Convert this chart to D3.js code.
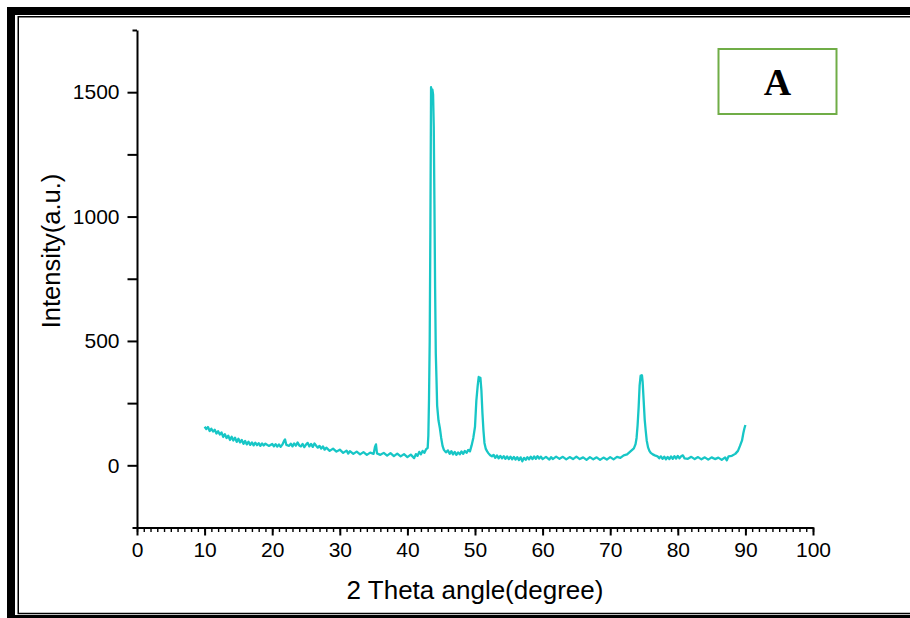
<!DOCTYPE html>
<html>
<head>
<meta charset="utf-8">
<script src="https://cdn.jsdelivr.net/npm/d3@7"></script>
<style>
  html, body { margin: 0; padding: 0; background: #fff; }
  svg { display: block; }
</style>
</head>
<body>
<svg id="chart" width="910" height="618"></svg>
<script>
// ---- data ----
const angles = [
  10.0,10.25,10.5,10.75,11.0,11.25,11.5,11.75,12.0,12.25,12.5,12.75,13.0,13.25,13.5,13.75,
  14.0,14.25,14.5,14.75,15.0,15.25,15.5,15.75,16.0,16.25,16.5,16.75,17.0,17.25,17.5,17.75,
  18.0,18.25,18.5,18.75,19.0,19.5,20.0,20.25,20.5,20.75,21.0,21.25,21.5,21.75,21.9,22.1,
  22.5,22.75,23.0,23.25,23.5,23.75,24.0,24.25,24.5,24.75,25.0,25.25,25.5,25.75,26.0,26.25,
  26.5,26.75,27.0,27.25,27.5,27.75,28.0,28.5,29.0,29.5,30.0,30.5,31.0,31.25,31.5,32.0,
  32.5,33.0,33.5,34.0,34.5,35.0,35.2,35.35,35.5,36.0,36.5,37.0,37.5,38.0,38.5,39.0,
  39.5,40.0,40.5,41.0,41.25,41.5,41.75,42.0,42.25,42.5,42.75,43.0,43.1,43.2,43.3,43.4,
  43.5,43.6,43.7,43.8,43.9,44.0,44.1,44.2,44.3,44.4,44.6,44.8,45.0,45.2,45.4,45.7,
  46.0,46.25,46.5,46.75,47.0,47.25,47.5,47.75,48.0,48.25,48.5,48.75,49.0,49.25,49.5,49.75,
  50.0,50.2,50.4,50.55,50.7,50.8,50.95,51.1,51.25,51.4,51.6,51.8,52.0,52.25,52.5,52.75,
  53.0,53.25,53.5,53.75,54.0,54.25,54.5,54.75,55.0,55.25,55.5,55.75,56.0,56.25,56.5,56.75,
  57.0,57.25,57.5,57.75,58.0,58.25,58.5,58.75,59.0,59.25,59.5,59.75,60.0,60.5,61.0,61.25,
  61.5,62.0,62.5,63.0,63.5,64.0,64.5,65.0,65.5,66.0,66.5,67.0,67.5,68.0,68.5,69.0,
  69.5,70.0,70.5,71.0,71.5,72.0,72.5,72.75,73.0,73.25,73.5,73.75,73.9,74.05,74.2,74.35,
  74.5,74.6,74.7,74.8,74.95,75.1,75.25,75.4,75.6,75.8,76.0,76.3,76.6,77.0,77.25,77.5,
  77.75,78.0,78.25,78.5,78.75,79.0,79.25,79.5,79.75,80.0,80.25,80.5,80.75,81.0,81.5,82.0,
  82.5,83.0,83.5,84.0,84.5,85.0,85.5,86.0,86.5,87.0,87.25,87.5,88.0,88.5,88.9,89.2,
  89.5,89.7,89.85,90.0
];
const intensity = [
  155,146,154,138,147,136,143,128,137,124,132,114,125,110,119,102,
  115,100,111,94,107,92,102,86,98,84,95,82,92,80,91,81,
  89,78,88,80,87,78,86,76,85,75,84,74,83,98,104,82,
  78,87,76,88,79,92,80,76,86,73,83,90,76,86,74,88,
  79,71,78,67,76,63,71,58,67,55,63,50,59,47,57,46,
  55,44,53,42,51,46,74,84,48,42,50,39,49,37,47,36,
  45,33,43,29,45,38,54,44,58,50,64,70,120,270,500,950,
  1520,1480,1510,1490,1360,1050,710,450,350,240,180,150,110,78,62,52,
  60,46,57,44,54,42,52,44,56,46,58,50,62,56,80,110,
  155,260,320,355,340,352,300,210,140,90,66,56,48,40,36,42,
  30,40,28,38,28,37,26,36,25,35,24,34,23,33,21,32,
  16,30,22,33,24,35,25,36,26,37,27,35,25,34,23,33,
  25,35,26,34,24,33,25,35,25,32,22,33,24,32,22,31,
  23,33,24,34,30,40,44,50,56,62,68,85,110,160,230,320,
  360,345,362,335,260,185,140,100,72,58,50,44,40,36,28,36,
  26,35,24,34,25,36,26,37,27,38,28,36,40,28,26,34,
  25,33,24,32,23,32,25,31,22,32,20,36,38,46,58,78,
  100,130,148,162
];
const xMajorTicks = [0,10,20,30,40,50,60,70,80,90,100];
const xMinorTicks = [0,1,2,3,4,5,6,7,8,9,10,11,12,13,14,15,16,17,18,19,20,21,22,23,24,25,26,27,28,29,
  30,31,32,33,34,35,36,37,38,39,40,41,42,43,44,45,46,47,48,49,50,51,52,53,54,55,56,57,58,59,
  60,61,62,63,64,65,66,67,68,69,70,71,72,73,74,75,76,77,78,79,80,81,82,83,84,85,86,87,88,89,
  90,91,92,93,94,95,96,97,98,99,100];
const yMajorTicks = [0,500,1000,1500];
const yMinorTicks = [250,750,1250];
const yEndTicks = [-250,1750];
const xTitle = "2 Theta angle(degree)";
const yTitle = "Intensity(a.u.)";
const panelLabel = "A";

// ---- drawing ----
const SANS = "'Liberation Sans', Arial, sans-serif";
const SERIF = "'Liberation Serif', 'Times New Roman', serif";
const svg = d3.select("#chart");
const W = 910, H = 618;

// page frame (thick-thin double border)
svg.append("rect").attr("x",0).attr("y",0).attr("width",W).attr("height",H).attr("fill","#fff");
svg.append("rect").attr("x",11).attr("y",11).attr("width",W+20).attr("height",608)
  .attr("fill","none").attr("stroke","#000").attr("stroke-width",8);
svg.append("rect").attr("x",18.25).attr("y",16.75).attr("width",W+20).attr("height",613.5-16.75)
  .attr("fill","none").attr("stroke","#000").attr("stroke-width",1.5);

const x = d3.scaleLinear().domain([0,100]).range([137,813]);
const y = d3.scaleLinear().domain([-250,1750]).range([527.5,30]);

// x axis minor
svg.append("g").attr("transform",`translate(0,${y(-250)})`)
  .call(d3.axisBottom(x).tickValues(xMinorTicks).tickSize(4.5).tickSizeOuter(0).tickFormat(""))
  .call(g => g.select(".domain").remove())
  .call(g => g.selectAll("line").attr("stroke","#000").attr("stroke-width",1.4));
// x axis major
svg.append("g").attr("transform",`translate(0,${y(-250)})`)
  .call(d3.axisBottom(x).tickValues(xMajorTicks).tickSize(8).tickSizeOuter(0).tickPadding(7).tickFormat(d3.format("d")))
  .call(g => g.select(".domain").attr("stroke","#000").attr("stroke-width",2))
  .call(g => g.selectAll("line").attr("stroke","#000").attr("stroke-width",2))
  .call(g => g.selectAll("text").style("font-size","21px").style("font-family",SANS).attr("fill","#000"));

// y axis ends
svg.append("g").attr("transform",`translate(${x(0)},0)`)
  .call(d3.axisLeft(y).tickValues(yEndTicks).tickSize(4.5).tickSizeOuter(0).tickFormat(""))
  .call(g => g.select(".domain").remove())
  .call(g => g.selectAll("line").attr("stroke","#000").attr("stroke-width",2));
// y axis minor
svg.append("g").attr("transform",`translate(${x(0)},0)`)
  .call(d3.axisLeft(y).tickValues(yMinorTicks).tickSize(9.5).tickSizeOuter(0).tickFormat(""))
  .call(g => g.select(".domain").remove())
  .call(g => g.selectAll("line").attr("stroke","#000").attr("stroke-width",2));
// y axis major
svg.append("g").attr("transform",`translate(${x(0)},0)`)
  .call(d3.axisLeft(y).tickValues(yMajorTicks).tickSize(9.5).tickSizeOuter(0).tickPadding(8).tickFormat(d3.format("d")))
  .call(g => g.select(".domain").attr("stroke","#000").attr("stroke-width",2))
  .call(g => g.selectAll("line").attr("stroke","#000").attr("stroke-width",2))
  .call(g => g.selectAll("text").style("font-size","21px").style("font-family",SANS).attr("fill","#000"));

// data line
const pts = angles.map((a,i) => [a, intensity[i]]);
svg.append("path").datum(pts)
  .attr("fill","none").attr("stroke","#17c6c6").attr("stroke-width",2.3)
  .attr("stroke-linejoin","round")
  .attr("d", d3.line().x(d => x(d[0])).y(d => y(d[1])));

// axis titles
svg.append("text").attr("x",(x(0)+x(100))/2).attr("y",599)
  .attr("text-anchor","middle").style("font-family",SANS).style("font-size","26px").attr("fill","#000").text(xTitle);
svg.append("text").attr("transform","translate(60,251) rotate(-90)")
  .attr("text-anchor","middle").style("font-family",SANS).style("font-size","25.5px").attr("fill","#000").text(yTitle);

// panel label box
svg.append("rect").attr("x",718.5).attr("y",49).attr("width",118).attr("height",65)
  .attr("fill","#fff").attr("stroke","#70ad47").attr("stroke-width",2);
svg.append("text").attr("x",777.5).attr("y",95).attr("text-anchor","middle")
  .style("font-family",SERIF).style("font-weight","bold")
  .style("font-size","38px").attr("fill","#000").text(panelLabel);
</script>
</body>
</html>
